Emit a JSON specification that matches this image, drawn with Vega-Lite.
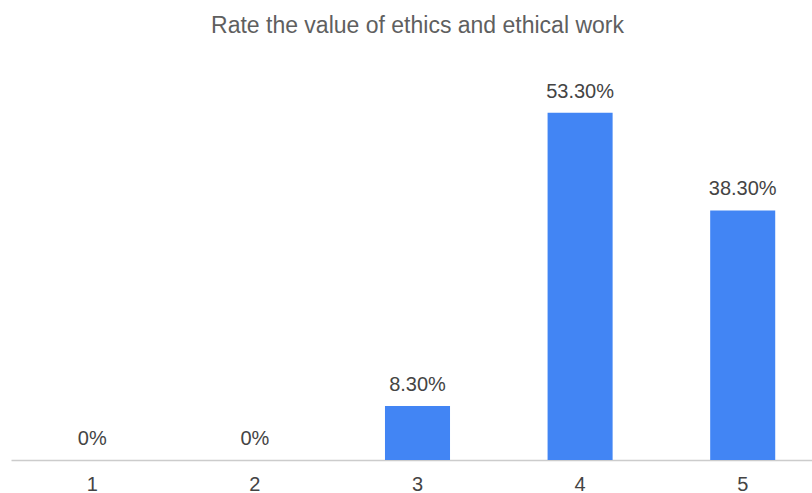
{
  "$schema": "https://vega.github.io/schema/vega-lite/v6.json",
  "width": 813,
  "height": 391,
  "autosize": {"type": "none"},
  "padding": {"left": 11, "top": 69, "right": 0, "bottom": 33},
  "background": "white",
  "title": {
    "text": "Rate the value of ethics and ethical work",
    "font": "Liberation Sans",
    "fontSize": 23,
    "fontWeight": "normal",
    "color": "#5f5f5f",
    "anchor": "middle",
    "offset": 31
  },
  "config": {"view": {"stroke": null}},
  "data": {
    "values": [
      {"rating": "1", "percent": 0, "label": "0%"},
      {"rating": "2", "percent": 0, "label": "0%"},
      {"rating": "3", "percent": 8.3, "label": "8.30%"},
      {"rating": "4", "percent": 53.3, "label": "53.30%"},
      {"rating": "5", "percent": 38.3, "label": "38.30%"}
    ]
  },
  "encoding": {
    "x": {
      "field": "rating",
      "type": "nominal",
      "sort": null,
      "scale": {"paddingInner": 0.6, "paddingOuter": 0.3},
      "axis": {
        "title": null,
        "labelAngle": 0,
        "labelFont": "Liberation Sans",
        "labelFontSize": 20,
        "labelColor": "#444444",
        "domainColor": "#cccccc",
        "domainWidth": 1.5,
        "ticks": false,
        "labelPadding": 14
      }
    },
    "y": {
      "field": "percent",
      "type": "quantitative",
      "scale": {"domain": [0, 60]},
      "axis": null
    }
  },
  "layer": [
    {"mark": {"type": "bar", "color": "#4285F4"}},
    {
      "mark": {
        "type": "text",
        "baseline": "bottom",
        "dy": -11,
        "font": "Liberation Sans",
        "fontSize": 20,
        "color": "#444444"
      },
      "encoding": {"text": {"field": "label"}}
    }
  ]
}
